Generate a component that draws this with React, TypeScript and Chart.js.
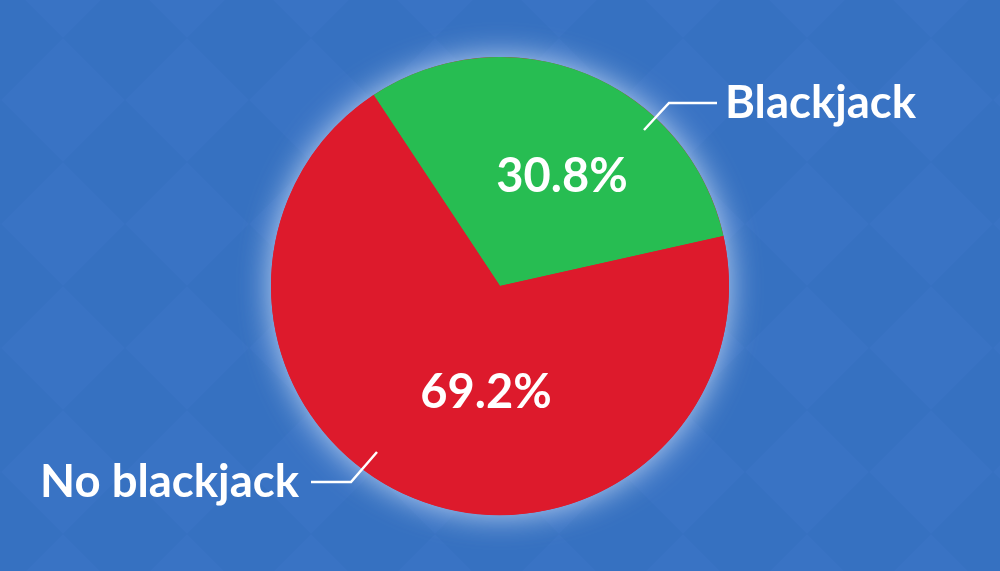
import React, { useEffect, useRef } from "react";
import { Chart, registerables } from "chart.js";

Chart.register(...registerables);

const categories = ["Blackjack", "No blackjack"];
const values = [30.8, 69.2];
const percentLabels = ["30.8%", "69.2%"];
const sliceColors = ["#27bd52", "#dd1a2c"];

const bgPlugin = {
  id: "bgPattern",
  beforeDraw(chart: any) {
    const { ctx, width, height } = chart;
    ctx.save();
    ctx.fillStyle = "#3671c1";
    ctx.fillRect(0, 0, width, height);
    const p = 124;
    const ox = 125, oy = 100;
    ctx.fillStyle = "rgba(70,130,210,0.18)";
    for (let n = -12; n < 20; n++) {
      for (let m = -12; m < 20; m++) {
        if ((n + m) % 2 !== 0) continue;
        const cx = ox + (n * p + m * p) / 2 + p / 2;
        const cy = oy + (n * p - m * p) / 2;
        ctx.beginPath();
        ctx.moveTo(cx - p / 2, cy);
        ctx.lineTo(cx, cy - p / 2);
        ctx.lineTo(cx + p / 2, cy);
        ctx.lineTo(cx, cy + p / 2);
        ctx.closePath();
        ctx.fill();
      }
    }
    ctx.restore();
  },
};

const glowPlugin = {
  id: "glow",
  beforeDatasetsDraw(chart: any) {
    const arc = chart.getDatasetMeta(0).data[0];
    if (!arc) return;
    const { ctx } = chart;
    ctx.save();
    ctx.shadowColor = "rgba(225,238,255,0.8)";
    ctx.shadowBlur = 32;
    ctx.fillStyle = "#dd1a2c";
    ctx.beginPath();
    ctx.arc(arc.x, arc.y, arc.outerRadius, 0, Math.PI * 2);
    ctx.fill();
    ctx.restore();
  },
};

const labelPlugin = {
  id: "labels",
  afterDatasetsDraw(chart: any) {
    const arc = chart.getDatasetMeta(0).data[0];
    if (!arc) return;
    const { ctx } = chart;
    const cx = arc.x, cy = arc.y;
    ctx.save();
    ctx.fillStyle = "#ffffff";
    ctx.strokeStyle = "#ffffff";
    ctx.textBaseline = "middle";
    ctx.font = "bold 47px Lato";
    ctx.textAlign = "center";
    ctx.fillText(percentLabels[0], cx + 62, cy - 109);
    ctx.fillText(percentLabels[1], cx - 14, cy + 107);
    ctx.lineWidth = 2.5;
    ctx.beginPath();
    ctx.moveTo(cx + 144, cy - 156);
    ctx.lineTo(cx + 169, cy - 183);
    ctx.lineTo(cx + 217, cy - 183);
    ctx.stroke();
    ctx.beginPath();
    ctx.moveTo(cx - 123, cy + 166);
    ctx.lineTo(cx - 149, cy + 196);
    ctx.lineTo(cx - 189, cy + 196);
    ctx.stroke();
    ctx.font = "bold 45.5px Lato";
    ctx.textAlign = "left";
    ctx.fillText(categories[0], cx + 225, cy - 183);
    ctx.textAlign = "right";
    ctx.fillText(categories[1], cx - 201, cy + 196);
    ctx.restore();
  },
};

export default function App() {
  const ref = useRef<HTMLCanvasElement>(null);
  useEffect(() => {
    if (!ref.current) return;
    const chart = new Chart(ref.current, {
      type: "pie",
      data: {
        labels: categories,
        datasets: [
          {
            data: values,
            backgroundColor: sliceColors,
            borderWidth: 0,
          },
        ],
      },
      options: {
        animation: false,
        responsive: false,
        rotation: -33.5,
        layout: { padding: { top: 57, bottom: 56, left: 0, right: 0 } },
        plugins: {
          legend: { display: false },
          tooltip: { enabled: false },
        },
      },
      plugins: [bgPlugin, glowPlugin, labelPlugin],
    });
    return () => chart.destroy();
  }, []);
  return (
    <div style={{ position: "fixed", left: 0, top: 0, width: 1000, height: 571 }}>
      <canvas ref={ref} width={1000} height={571} style={{ display: "block" }} />
    </div>
  );
}
